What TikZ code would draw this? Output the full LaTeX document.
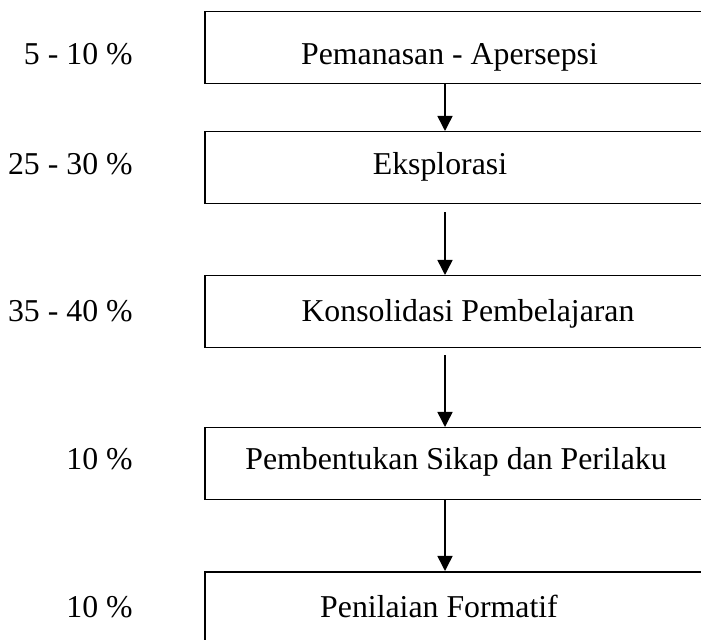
\documentclass[tikz,border=0pt]{standalone}
\usepackage{fontspec}
\setmainfont{Liberation Serif}
\usetikzlibrary{arrows.meta}

\begin{document}
\begin{tikzpicture}[
            x=0.5pt, y=-0.5pt,
            box/.style={draw, line width=0.75pt, rectangle, anchor=north west,
                        minimum width=258pt, minimum height=36pt, inner sep=0pt},
            txt/.style={anchor=base, inner sep=0pt, font=\fontsize{15.9}{19}\selectfont},
            pct/.style={anchor=base east, inner sep=0pt, font=\fontsize{15.9}{19}\selectfont},
            arr/.style={draw, line width=0.75pt, -{Triangle[width=7.5pt, length=7.5pt]}}
        ]
        \useasboundingbox (0,0) rectangle (701,640);

        % Step boxes
        \node[box] (B1) at (204,11)  {};
        \node[box] (B2) at (204,131) {};
        \node[box] (B3) at (204,275) {};
        \node[box] (B4) at (204,427) {};
        \node[box] (B5) at (204,571) {};

        % Step texts
        \node[txt] (T1) at (449.5,65)  {Pemanasan - Apersepsi};
        \node[txt] (T2) at (440,175)   {Eksplorasi};
        \node[txt] (T3) at (468,322)   {Konsolidasi Pembelajaran};
        \node[txt] (T4) at (456,470)   {Pembentukan Sikap dan Perilaku};
        \node[txt] (T5) at (439,617)   {Penilaian Formatif};

        % Time shares
        \node[pct] (P1) at (133,65)  {5 - 10 \%};
        \node[pct] (P2) at (133,175) {25 - 30 \%};
        \node[pct] (P3) at (133,322) {35 - 40 \%};
        \node[pct] (P4) at (133,470) {10 \%};
        \node[pct] (P5) at (133,617) {10 \%};

        % Flow arrows
        \coordinate (ax) at (445,0);
        \draw[arr] (B1.south -| ax) -- (B2.north -| ax);
        \draw[arr, shorten <=4pt] (B2.south -| ax) -- (B3.north -| ax);
        \draw[arr, shorten <=3.5pt] (B3.south -| ax) -- (B4.north -| ax);
        \draw[arr] (B4.south -| ax) -- (B5.north -| ax);
    \end{tikzpicture}
\end{document}
